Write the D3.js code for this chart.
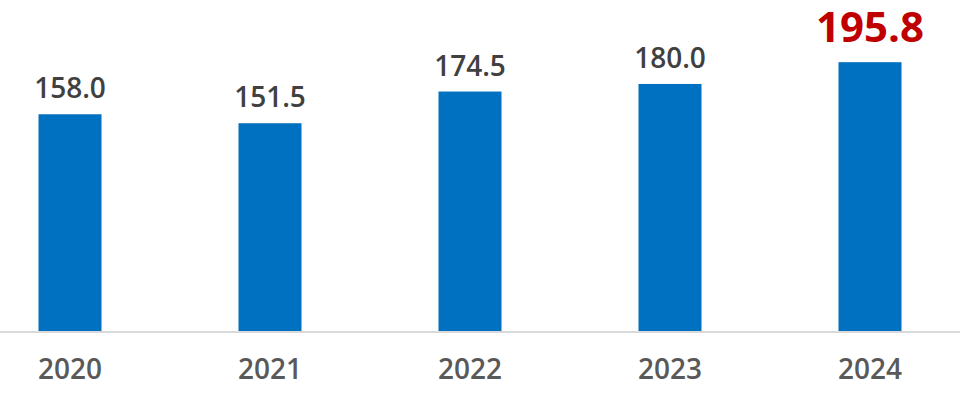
<!DOCTYPE html>
<html><head><meta charset="utf-8">
<script src="https://cdn.jsdelivr.net/npm/d3@7"></script>
<style>html,body{margin:0;padding:0;background:#fff;}svg{display:block;}</style>
</head><body>
<svg id="chart" width="960" height="394"></svg>
<script>
const years = ["2020","2021","2022","2023","2024"];
const values = [158.0, 151.5, 174.5, 180.0, 195.8];
const labels = ["158.0","151.5","174.5","180.0","195.8"];

const svg = d3.select("#chart");
const x = d3.scaleBand().domain(years).range([-30, 970]).paddingInner(0.685).paddingOuter(0.3425);
const y = d3.scaleLinear().domain([0, 200]).range([332, 56.4]);

svg.selectAll("rect.bar").data(values).join("rect")
  .attr("class","bar")
  .attr("x",(d,i)=>x(years[i]))
  .attr("width",x.bandwidth())
  .attr("y",d=>y(d))
  .attr("height",d=>y(0)-y(d))
  .attr("fill","#0070C0");

const axis = svg.append("g").attr("transform","translate(0,"+y(0)+")")
  .call(d3.axisBottom(x).tickSize(0).tickPadding(0));
axis.select(".domain").attr("d","M0,0H960").attr("stroke","#d9d9d9").attr("stroke-width",2);
axis.selectAll("text")
  .attr("dy",null).attr("y",47)
  .attr("font-family","'Open Sans', sans-serif").attr("font-size",28).attr("font-weight",600)
  .attr("fill","#595959");

const last = values.length-1;
svg.selectAll("text.val").data(values).join("text")
  .attr("class","val")
  .attr("x",(d,i)=>x(years[i])+x.bandwidth()/2)
  .attr("y",(d,i)=>y(d)-(i===last?20:16))
  .attr("text-anchor","middle")
  .attr("font-family","'Open Sans', sans-serif")
  .attr("font-size",(d,i)=>i===last?42:28)
  .attr("font-weight",(d,i)=>i===last?700:600)
  .attr("fill",(d,i)=>i===last?"#C00000":"#404040")
  .text((d,i)=>labels[i]);
</script>
</body></html>
